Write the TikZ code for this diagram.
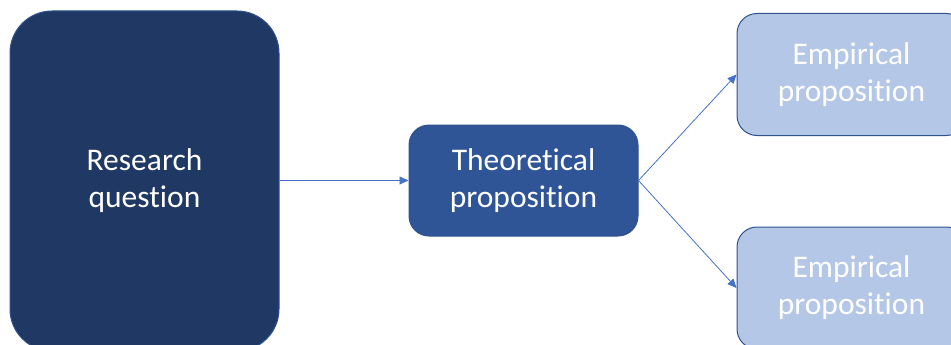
\documentclass[tikz,border=0pt]{standalone}
\usepackage{fontspec}
\setmainfont{Carlito}[Ligatures=NoCommon]
\usetikzlibrary{arrows.meta}
\definecolor{rqfill}{HTML}{203864}
\definecolor{tpfill}{HTML}{2F5597}
\definecolor{epfill}{HTML}{B4C7E7}
\definecolor{edge}{HTML}{2F528F}
\definecolor{arr}{HTML}{4472C4}
\tikzset{
  box/.style={draw=edge, line width=1pt, text=white, align=center,
    font=\fontsize{31.5}{37}\selectfont, inner sep=0pt},
  conn/.style={draw=arr, line width=0.8pt, -{Triangle[length=9pt,width=8pt]}}
}
\begin{document}
\begin{tikzpicture}[x=1pt,y=-1pt]
\useasboundingbox (0,0) rectangle (951,345);
\node[box, fill=rqfill, rounded corners=42pt, minimum width=269pt, minimum height=340pt] (rq) at (144.5,181) {Research\\question};
\node[box, fill=tpfill, rounded corners=20pt, minimum width=229pt, minimum height=111pt] (tp) at (523.5,180.5) {Theoretical\\proposition};
\node[box, fill=epfill, rounded corners=20pt, minimum width=229pt, minimum height=122pt] (ep1) at (851.5,74.5) {Empirical\\proposition};
\node[box, fill=epfill, rounded corners=20pt, minimum width=229pt, minimum height=122pt] (ep2) at (851.5,288) {Empirical\\proposition};
\draw[conn] (rq.east |- tp.west) -- (tp.west);
\draw[conn] (tp.east) -- (ep1.west);
\draw[conn] (tp.east) -- (ep2.west);
\end{tikzpicture}
\end{document}
